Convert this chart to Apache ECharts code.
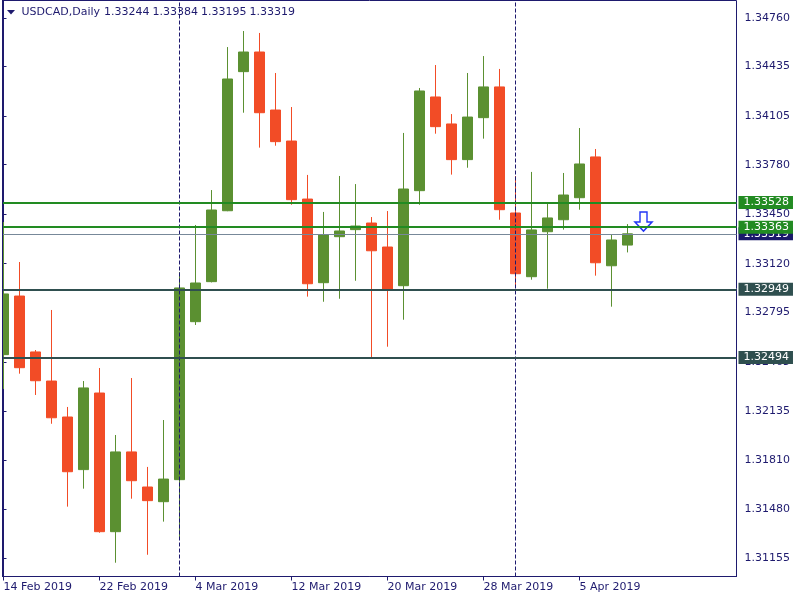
<!DOCTYPE html>
<html><head><meta charset="utf-8">
<script src="https://cdn.jsdelivr.net/npm/echarts@6/dist/echarts.min.js"></script>
<style>html,body{margin:0;padding:0;background:#fff}#c{width:800px;height:600px}</style>
</head><body><div id="c"></div>
<script>
const symbolName = 'USDCAD';
const timeframe = 'Daily';
const dates = ['2019-02-14','2019-02-15','2019-02-18','2019-02-19','2019-02-20','2019-02-21','2019-02-22','2019-02-25','2019-02-26','2019-02-27',
 '2019-02-28','2019-03-01','2019-03-04','2019-03-05','2019-03-06','2019-03-07','2019-03-08','2019-03-11','2019-03-12','2019-03-13',
 '2019-03-14','2019-03-15','2019-03-18','2019-03-19','2019-03-20','2019-03-21','2019-03-22','2019-03-25','2019-03-26','2019-03-27',
 '2019-03-28','2019-03-29','2019-04-01','2019-04-02','2019-04-03','2019-04-04','2019-04-05','2019-04-08','2019-04-09','2019-04-10'];
const openP = [1.32513,1.32904,1.32531,1.32337,1.32097,1.31746,1.32257,1.31332,1.31864,1.31630,
 1.31532,1.31679,1.32733,1.33000,1.33473,1.34401,1.34532,1.34145,1.33938,1.33551,
 1.32993,1.33300,1.33347,1.33391,1.33231,1.32973,1.33607,1.34232,1.34052,1.33814,
 1.34094,1.34299,1.33458,1.33033,1.33333,1.33413,1.33560,1.33832,1.33106,1.33244];
const highP = [1.33398,1.33131,1.32544,1.32811,1.32164,1.32337,1.32424,1.31977,1.32357,1.31764,
 1.32077,1.33064,1.33378,1.33611,1.34565,1.34672,1.34659,1.34392,1.34165,1.33712,
 1.33465,1.33705,1.33651,1.33431,1.33471,1.33992,1.34292,1.34445,1.34118,1.34392,
 1.34505,1.34419,1.33705,1.33732,1.33527,1.33725,1.34025,1.33885,1.33313,1.33384];
const lowP = [1.32284,1.32386,1.32244,1.32052,1.31499,1.31619,1.31325,1.31125,1.31552,1.31178,
 1.31399,1.31295,1.32711,1.32995,1.33470,1.34127,1.33894,1.33907,1.33513,1.32900,
 1.32866,1.32886,1.33006,1.32489,1.32566,1.32746,1.33513,1.33987,1.33714,1.33760,
 1.33954,1.33413,1.32973,1.33013,1.32953,1.33347,1.33480,1.33040,1.32833,1.33195];
const closeP = [1.32918,1.32426,1.32339,1.32092,1.31732,1.32291,1.31332,1.31864,1.31672,1.31539,
 1.31683,1.32958,1.32991,1.33478,1.34352,1.34532,1.34127,1.33934,1.33547,1.32986,
 1.33311,1.33338,1.33371,1.33206,1.32946,1.33618,1.34272,1.34034,1.33814,1.34098,
 1.34299,1.33480,1.33053,1.33345,1.33425,1.33578,1.33785,1.33126,1.33278,1.33319];
const resistanceLevels = [1.33528, 1.33363];
const supportLevels = [1.32949, 1.32494];
const priceTicks = [1.34760,1.34435,1.34105,1.33780,1.33450,1.33120,1.32795,1.32465,1.32135,1.31810,1.31480,1.31155];
const dateTickIdx = [0,6,12,18,24,30,36];
const sellArrow = [40, 1.33401];

const NAVY = '#1e1a6e';
const UP = '#5b9031', DOWN = '#f24c26';
const FONT = 'DejaVu Sans';
const MONTHS = ['Jan','Feb','Mar','Apr','May','Jun','Jul','Aug','Sep','Oct','Nov','Dec'];
function fmtDate(s){ const p = s.split('-'); return (+p[2]) + ' ' + MONTHS[+p[1]-1] + ' ' + p[0]; }

const candles = dates.map((d,i)=>[i, openP[i], closeP[i], lowP[i], highP[i]]);
const monthStarts = [];
for (let i=1;i<dates.length;i++) if (dates[i].slice(5,7)!==dates[i-1].slice(5,7)) monthStarts.push(i);
const last = dates.length-1;
const bid = closeP[last];

const chart = echarts.init(document.getElementById('c'), null, {renderer:'canvas'});
const headerVals = [openP[last], highP[last], lowP[last], closeP[last]].map(v=>v.toFixed(5));
const headerX = [104, 152.5, 201, 249.5];
chart.setOption({
  animation: false,
  backgroundColor: '#ffffff',
  grid: {left: 2.5, top: 0.5, right: 63.5, bottom: 23.5, show: true, borderColor: NAVY, borderWidth: 1, backgroundColor: 'transparent'},
  xAxis: {
    type: 'value', min: -0.0625, max: 45.8125,
    splitLine: {show: false},
    axisLine: {show: true, lineStyle: {color: NAVY, width: 1}},
    axisTick: {show: true, length: 4, lineStyle: {color: NAVY}, customValues: dateTickIdx},
    axisLabel: {customValues: dateTickIdx, formatter: v => fmtDate(dates[Math.round(v)]), color: NAVY, fontFamily: FONT, fontSize: 11, align: 'left', margin: 5}
  },
  yAxis: {
    type: 'value', position: 'right', min: 1.310330, max: 1.348756, scale: true,
    splitLine: {show: false},
    axisLine: {show: true, lineStyle: {color: NAVY, width: 1}},
    axisTick: {show: true, length: 3, lineStyle: {color: NAVY}, customValues: priceTicks},
    axisLabel: {customValues: priceTicks, formatter: v => v.toFixed(5), color: NAVY, fontFamily: FONT, fontSize: 11, margin: 8}
  },
  graphic: [
    {type: 'rect', shape: {x: 0, y: 0, width: 2, height: 600}, style: {fill: '#ffffff'}, z: 100, silent: true},
    {type: 'line', shape: {x1: 2.5, y1: 0, x2: 2.5, y2: 577}, style: {stroke: NAVY, lineWidth: 1}, z: 101, silent: true},
    {type: 'polygon', shape: {points: [[7,10],[15,10],[11,14.5]]}, style: {fill: NAVY}, z: 102},
    {type: 'text', x: 21.5, y: 12.5, style: {text: symbolName + ',' + timeframe, fill: NAVY, font: '11px "DejaVu Sans"', textVerticalAlign: 'middle'}, z: 102}
  ].concat(headerVals.map((t,k)=>({type:'text', x: headerX[k], y: 12.5, style: {text: t, fill: NAVY, font: '11px "DejaVu Sans"', textVerticalAlign: 'middle'}, z: 102}))),
  series: [
    {
      type: 'line', data: [], z: 1, silent: true,
      markLine: {
        silent: true, symbol: 'none', animation: false,
        data: monthStarts.map(i => ({xAxis: i, lineStyle: {color: NAVY, width: 1, type: [4,2]}, label: {show: false}}))
      }
    },
    {
      type: 'line', data: [], z: 1, silent: true,
      markLine: {
        silent: true, symbol: 'none', animation: false, precision: 5,
        label: {show: true, position: 'end', distance: 2, formatter: p => p.value.toFixed(5), color: '#ffffff', fontFamily: FONT, fontSize: 11, padding: [1,4,0,5], lineHeight: 12},
        data: [
          {yAxis: bid, lineStyle: {color: '#778899', width: 1, type: 'solid'}, label: {backgroundColor: '#1a1a6a'}},
          ...supportLevels.map(v => ({yAxis: v, lineStyle: {color: '#2f4f4f', width: 2, type: 'solid'}, label: {backgroundColor: '#2f4f4f'}})),
          ...resistanceLevels.map(v => ({yAxis: v, lineStyle: {color: '#228b22', width: 2, type: 'solid'}, label: {backgroundColor: '#228b22'}}))
        ]
      }
    },
    {
      type: 'candlestick', z: 3, data: candles, barWidth: 10, clip: true,
      encode: {x: 0, y: [1,2,3,4]},
      itemStyle: {color: UP, color0: DOWN, borderColor: UP, borderColor0: DOWN, borderWidth: 1}
    },
    {
      type: 'scatter', z: 4, data: [sellArrow],
      symbol: 'path://M5,0 L12,0 L12,10 L17,10 L8.5,19 L0,10 L5,10 Z', symbolSize: [17,19],
      itemStyle: {color: '#ffffff', borderColor: '#2236f5', borderWidth: 1.5, opacity: 1}
    }
  ]
});
</script></body></html>
